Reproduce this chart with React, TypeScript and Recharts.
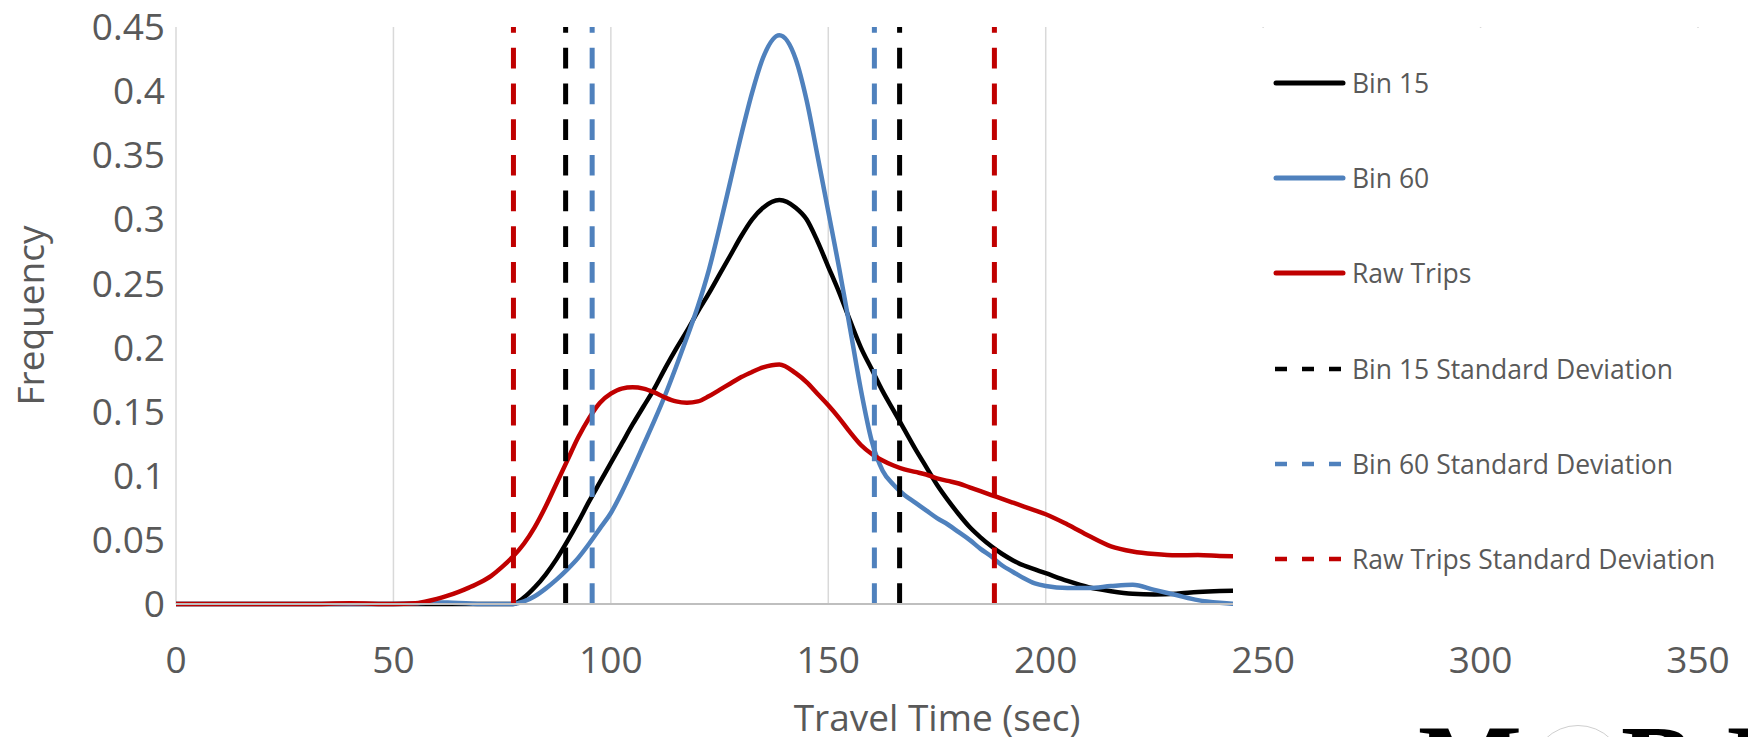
import React from "react";
import { LineChart, Line, XAxis, YAxis, CartesianGrid, ReferenceLine, Legend } from "recharts";

// Travel time grid (seconds)
const travelTime = [
  0, 10, 20, 30, 40, 50,
  55, 57.5, 60, 62.5, 65, 67.5, 70, 72.5, 75, 77.5,
  80, 82.5, 85, 87.5, 90, 92.5, 95, 97.5, 100, 102.5, 105, 107.5, 110, 112.5,
  115, 117.5, 120, 122.5, 125, 127.5, 130, 132.5, 135,
  138.75,
  142.5, 145, 147.5, 150, 152.5, 155, 157.5, 160, 162.5, 165, 167.5, 170,
  172.5, 175, 177.5, 180, 182.5, 185, 187.5, 190, 192.5, 195, 197.5, 200,
  205, 210, 215, 220, 225, 230, 235, 240, 245, 250,
];

const bin15 = [
  0, 0, 0, 0, 0, 0,
  0, 0, 0, 0, 0, 0, 0, 0, 0, 0,
  0.005, 0.013, 0.023, 0.035, 0.049, 0.064, 0.08, 0.095, 0.11, 0.125, 0.14, 0.154, 0.168, 0.184,
  0.199, 0.213, 0.228, 0.242, 0.257, 0.272, 0.287, 0.3, 0.309,
  0.315,
  0.309, 0.3, 0.283, 0.263, 0.243, 0.221, 0.2, 0.183, 0.166, 0.151, 0.136, 0.121,
  0.107, 0.093, 0.081, 0.07, 0.06, 0.052, 0.045, 0.039, 0.034, 0.03, 0.027, 0.024,
  0.018, 0.013, 0.01, 0.008, 0.0075, 0.008, 0.0093, 0.0101, 0.0105, 0.0105,
];

const bin60 = [
  0, 0, 0, 0, 0, 0,
  0.0005, 0.001, 0.0012, 0.0011, 0.0008, 0.0004, 0, 0, 0, 0,
  0.002, 0.006, 0.012, 0.019, 0.027, 0.036, 0.047, 0.059, 0.071, 0.087, 0.105, 0.124, 0.143, 0.163,
  0.185, 0.208, 0.232, 0.26, 0.294, 0.33, 0.366, 0.399, 0.426,
  0.4435,
  0.425, 0.393, 0.35, 0.306, 0.262, 0.215, 0.167, 0.127, 0.104, 0.093, 0.085, 0.079,
  0.073, 0.067, 0.062, 0.056, 0.05, 0.043, 0.037, 0.03, 0.025, 0.02, 0.016, 0.014,
  0.0125, 0.0125, 0.014, 0.015, 0.011, 0.007, 0.003, 0.001, 0, 0,
];

const rawTrips = [
  0, 0, 0, 0, 0.0005, 0,
  0.0005, 0.002, 0.004, 0.0065, 0.0095, 0.013, 0.017, 0.022, 0.029, 0.037,
  0.047, 0.06, 0.076, 0.094, 0.112, 0.13, 0.145, 0.157, 0.164, 0.168, 0.169, 0.168, 0.165, 0.161,
  0.158, 0.157, 0.158, 0.162, 0.167, 0.172, 0.177, 0.181, 0.1845,
  0.1868,
  0.18, 0.173, 0.164, 0.155, 0.145, 0.134, 0.124, 0.117, 0.112, 0.108, 0.105, 0.103,
  0.101, 0.098, 0.096, 0.094, 0.091, 0.088, 0.085, 0.082, 0.079, 0.076, 0.073, 0.07,
  0.062, 0.053, 0.045, 0.041, 0.039, 0.038, 0.0382, 0.0375, 0.037, 0.0365,
];

// Standard deviation bounds (lower, upper) in seconds
const bin15Sd = [89.6, 166.4];
const bin60Sd = [95.7, 160.6];
const rawSd = [77.6, 188.2];

const xTicks = [0, 50, 100, 150, 200, 250, 300, 350];
const yTicks = [0, 0.05, 0.1, 0.15, 0.2, 0.25, 0.3, 0.35, 0.4, 0.45];

const BLACK = "#000000";
const BLUE = "#4F81BD";
const RED = "#C00000";
const TEXT = "#595959";
const FONT = "'Open Sans', sans-serif";

const rows = travelTime.map((t, i) => ({
  t,
  bin15: bin15[i],
  bin60: bin60[i],
  raw: rawTrips[i],
}));

const legendItems = [
  { name: "Bin 15", color: BLACK, dashed: false },
  { name: "Bin 60", color: BLUE, dashed: false },
  { name: "Raw Trips", color: RED, dashed: false },
  { name: "Bin 15 Standard Deviation", color: BLACK, dashed: true },
  { name: "Bin 60 Standard Deviation", color: BLUE, dashed: true },
  { name: "Raw Trips Standard Deviation", color: RED, dashed: true },
];

const sdLines = [
  { values: bin15Sd, color: BLACK },
  { values: bin60Sd, color: BLUE },
  { values: rawSd, color: RED },
];

function LegendBox() {
  return (
    <div style={{ position: "relative", width: "100%", height: "100%", background: "#fff" }}>
      {legendItems.map((item, i) => {
        const cy = 55 + i * 95.2;
        return (
          <div key={item.name} style={{ position: "absolute", left: 0, top: cy - 20, height: 40, width: "100%" }}>
            <svg width={120} height={40} style={{ position: "absolute", left: 0, top: 0 }}>
              {item.dashed ? (
                <line x1={42} y1={20} x2={110} y2={20} stroke={item.color} strokeWidth={4.5} strokeDasharray="12 15" />
              ) : (
                <line x1={43} y1={20} x2={110} y2={20} stroke={item.color} strokeWidth={5} strokeLinecap="round" />
              )}
            </svg>
            <span
              style={{
                position: "absolute",
                left: 119,
                top: 0,
                lineHeight: "40px",
                fontSize: 26.5,
                fontFamily: FONT,
                color: TEXT,
                whiteSpace: "nowrap",
              }}
            >
              {item.name}
            </span>
          </div>
        );
      })}
    </div>
  );
}

const logoLetter: React.CSSProperties = {
  position: "absolute",
  top: 709,
  fontFamily: "'Liberation Serif', serif",
  fontWeight: 700,
  fontSize: 110,
  lineHeight: 1,
  color: "#000",
  whiteSpace: "nowrap",
};

export default function App() {
  return (
    <div
      style={{
        position: "absolute",
        left: 0,
        top: 0,
        width: 1748,
        height: 737,
        overflow: "hidden",
        background: "#fff",
        fontFamily: FONT,
      }}
    >
      <LineChart width={1748} height={737} data={rows} margin={{ top: 27, right: 50, bottom: 0, left: 0 }}>
        <CartesianGrid vertical horizontal={false} stroke="#D9D9D9" strokeWidth={1.5} />
        <XAxis
          type="number"
          dataKey="t"
          domain={[0, 350]}
          ticks={xTicks}
          height={133}
          axisLine={{ stroke: "#BFBFBF", strokeWidth: 2 }}
          tickLine={false}
          tickSize={0}
          tickMargin={43}
          tick={{ fill: TEXT, fontSize: 37, fontFamily: FONT }}
          label={{ value: "Travel Time (sec)", position: "insideBottom", offset: 6, fill: TEXT, fontSize: 37, fontFamily: FONT }}
        />
        <YAxis
          type="number"
          domain={[0, 0.45]}
          ticks={yTicks}
          width={176}
          axisLine={false}
          tickLine={false}
          tickSize={0}
          tickMargin={11}
          tick={{ fill: TEXT, fontSize: 37, fontFamily: FONT }}
          label={{
            value: "Frequency",
            angle: -90,
            position: "insideLeft",
            offset: 31,
            fill: TEXT,
            fontSize: 37,
            fontFamily: FONT,
            style: { textAnchor: "middle" },
          }}
        />
        <Line type="monotone" dataKey="bin15" name="Bin 15" stroke={BLACK} strokeWidth={4.5} dot={false} activeDot={false} strokeLinejoin="round" isAnimationActive={false} />
        <Line type="monotone" dataKey="bin60" name="Bin 60" stroke={BLUE} strokeWidth={4.5} dot={false} activeDot={false} strokeLinejoin="round" isAnimationActive={false} />
        <Line type="monotone" dataKey="raw" name="Raw Trips" stroke={RED} strokeWidth={4.5} dot={false} activeDot={false} strokeLinejoin="round" isAnimationActive={false} />
        {sdLines.flatMap((sd) =>
          sd.values.map((v) => (
            <ReferenceLine
              key={`${sd.color}-${v}`}
              segment={[{ x: v, y: 0 }, { x: v, y: 0.45 }]}
              stroke={sd.color}
              strokeWidth={5}
              strokeDasharray="20.7 15"
              ifOverflow="visible"
            />
          ))
        )}
        <Legend
          layout="vertical"
          align="center"
          verticalAlign="middle"
          content={() => <LegendBox />}
          wrapperStyle={{ left: 1233, top: 28, width: 515, height: 588, margin: 0 }}
        />
      </LineChart>
      {/* partially visible wordmark below the chart */}
      <div style={{ ...logoLetter, left: 1418 }}>M</div>
      <div
        style={{
          position: "absolute",
          left: 1531,
          top: 725,
          width: 94,
          height: 94,
          borderRadius: "50%",
          border: "1px solid #CFCFCF",
          boxSizing: "border-box",
        }}
      />
      <div style={{ ...logoLetter, left: 1621 }}>B</div>
      <div style={{ ...logoLetter, left: 1725 }}>I</div>
    </div>
  );
}
